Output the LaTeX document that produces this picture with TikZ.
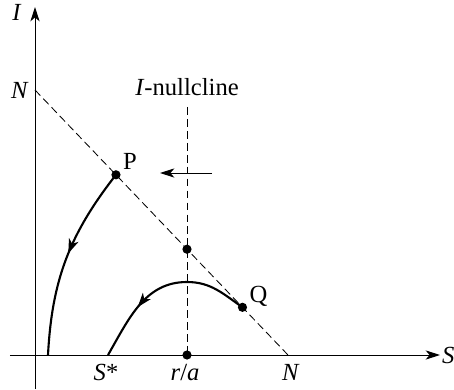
\documentclass[tikz,border=0pt]{standalone}
\usepackage{fontspec}
\setmainfont{Liberation Serif}
\usetikzlibrary{arrows.meta,positioning,calc,decorations.markings}

\begin{document}
\begin{tikzpicture}[
    font=\fontsize{17.5}{21}\selectfont,
    axis/.style={-{Stealth[length=3.6mm, width=2.3mm, inset=1mm]}, line width=0.65pt},
    nullc/.style={dash pattern=on 5.5pt off 3pt, line width=0.6pt},
    dot/.style={circle, fill, inner sep=0pt, minimum size=2.3mm},
    orbit/.style={line width=1.5pt, postaction={decorate},
        decoration={markings, mark=at position #1 with {\arrow{Stealth[length=3.6mm, width=2.5mm, inset=1mm]}}}}
]
    \useasboundingbox (-0.875,-0.85) rectangle (10.475,8.875);

    % Axes
    \coordinate (xlo) at (-0.625,0);
    \coordinate (xhi) at (10.125,0);
    \coordinate (ylo) at (0,-0.85);
    \coordinate (yhi) at (0,8.7);
    \draw[axis] (xlo) -- (xhi);
    \draw[axis] (ylo) -- (yhi);
    \node[right=-2pt of xhi] (Slab) {\textit{S}};
    \node at (-0.45,8.56) (Ilab) {\textit{I}};

    % Nullclines
    \coordinate (Ni) at (0,6.625);
    \coordinate (Ns) at (6.325,0);
    \coordinate (ra) at (3.8,0);
    \coordinate (top) at (3.8,6.2);
    \draw[nullc] (Ni) -- (Ns);
    \draw[nullc] (top) -- (ra);
    \node at (3.8,6.7) (ncl) {\textit{I}-nullcline};

    % Points
    \node[dot] (P) at ($(Ni)!0.32!(Ns)$) {};
    \node[dot] (Q) at ($(Ni)!0.82!(Ns)$) {};
    \node[dot] (E) at ($(Ni)!0.6008!(Ns)$) {};
    \node[dot] (R) at (ra) {};
    \node at ($(P)+(0.35,0.33)$) (Plab) {P};
    \node at ($(Q)+(0.4,0.27)$) (Qlab) {Q};

    % Axis labels
    \coordinate (Sstar) at (1.825,0);
    \node at ($(Ni)+(-0.38,0)$) (Nilab) {\textit{N}};
    \node at ($(Ns)+(0.07,-0.43)$) (Nslab) {\textit{N}};
    \node at ($(ra)+(-0.05,-0.43)$) (ralab) {\textit{r}/\textit{a}};
    \node at ($(Sstar)+(-0.05,-0.43)$) (Sslab) {\textit{S}*};

    % Trajectories
    \coordinate (Pend) at (0.325,0);
    \coordinate (peak) at (3.8,1.825);
    \draw[orbit=0.47] (P.center) to[out=232, in=87] (Pend);
    \draw[orbit=0.68] (Q.center) to[out=145, in=0] (peak) to[out=180, in=60] (Sstar);

    % Direction of flow
    \coordinate (h1) at (4.425,4.55);
    \coordinate (h2) at (3.125,4.55);
    \draw[axis] (h1) -- (h2);
\end{tikzpicture}
\end{document}
